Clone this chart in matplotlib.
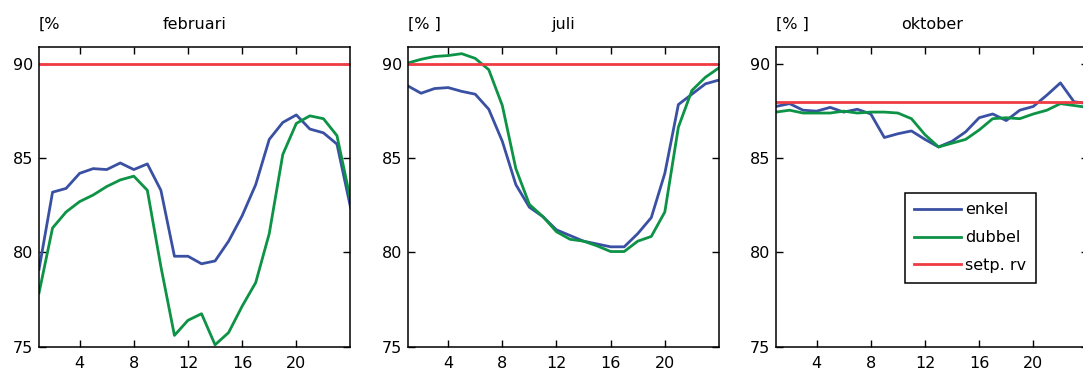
import numpy as np
import matplotlib
matplotlib.use("Agg")
import matplotlib.pyplot as plt

# uren van de dag
uren = np.arange(1, 25)

# relatieve vochtigheid [%] per maand
feb_enkel = [79.1, 83.2, 83.4, 84.2, 84.45, 84.4, 84.75, 84.4, 84.7, 83.3,
             79.8, 79.8, 79.4, 79.55, 80.6, 81.95, 83.6, 86.0, 86.9, 87.3,
             86.55, 86.35, 85.75, 82.4]
feb_dubbel = [77.85, 81.3, 82.15, 82.7, 83.05, 83.5, 83.85, 84.05, 83.3, 79.25,
              75.6, 76.4, 76.75, 75.1, 75.75, 77.15, 78.4, 81.0, 85.2, 86.85,
              87.25, 87.1, 86.2, 82.8]
jul_enkel = [88.85, 88.45, 88.7, 88.75, 88.55, 88.4, 87.6, 85.9, 83.6, 82.4,
             81.9, 81.2, 80.9, 80.6, 80.45, 80.3, 80.3, 81.0, 81.85, 84.2,
             87.85, 88.4, 88.95, 89.15]
jul_dubbel = [90.05, 90.25, 90.4, 90.45, 90.55, 90.3, 89.7, 87.8, 84.45, 82.55,
              81.9, 81.1, 80.7, 80.6, 80.35, 80.05, 80.05, 80.6, 80.85, 82.15,
              86.65, 88.6, 89.3, 89.8]
okt_enkel = [87.75, 87.9, 87.55, 87.5, 87.7, 87.45, 87.6, 87.35, 86.1, 86.3,
             86.45, 86.0, 85.6, 85.9, 86.4, 87.15, 87.35, 87.0, 87.55, 87.75,
             88.35, 89.0, 88.0, 87.9]
okt_dubbel = [87.45, 87.55, 87.4, 87.4, 87.4, 87.5, 87.4, 87.45, 87.45, 87.4,
              87.1, 86.25, 85.6, 85.8, 86.0, 86.5, 87.1, 87.15, 87.1, 87.35,
              87.55, 87.9, 87.8, 87.7]
setpunt = [90, 90, 88]

maanden = ["februari", "juli", "oktober"]
eenheden = ["[%", "[% ]", "[% ]"]
reeksen = [(feb_enkel, feb_dubbel), (jul_enkel, jul_dubbel), (okt_enkel, okt_dubbel)]

blauw = "#3a50a3"
groen = "#0c9345"
rood = "#ef3b42"

plt.rcParams["font.family"] = "DejaVu Sans"

fig = plt.figure(figsize=(10.83, 3.70), dpi=100)
links = [39.0, 407.5, 776.0]
for i in range(3):
    ax = fig.add_axes([links[i] / 1083, 23.3 / 370, 311.5 / 1083, 300 / 370])
    enkel, dubbel = reeksen[i]
    ax.plot(uren, enkel, color=blauw, lw=2.0, label="enkel")
    ax.plot(uren, dubbel, color=groen, lw=2.0, label="dubbel")
    ax.axhline(setpunt[i], color=rood, lw=2.0, label="setp. rv")
    ax.set_xlim(1, 24)
    ax.set_ylim(75, 90.92)
    ax.set_xticks([4, 8, 12, 16, 20])
    ax.set_yticks([75, 80, 85, 90])
    ax.tick_params(direction="in", top=True, right=True, length=5,
                   width=1, labelsize=11.5)
    ax.tick_params(axis="x", pad=7)
    ax.tick_params(axis="y", pad=4)
    for sp in ax.spines.values():
        sp.set_linewidth(1.1)
    ax.text(0.5, 1.075, maanden[i], transform=ax.transAxes,
            ha="center", va="center", fontsize=11.5)
    ax.text(0.0, 1.075, eenheden[i], transform=ax.transAxes,
            ha="left", va="center", fontsize=11.5)
    if i == 2:
        leg = ax.legend(loc="upper left", bbox_to_anchor=(0.413, 0.513),
                        borderaxespad=0, fancybox=False, framealpha=1,
                        edgecolor="black", fontsize=11.5, handlelength=2.9,
                        handletextpad=0.3, borderpad=0.6, labelspacing=0.8)
        leg.get_frame().set_linewidth(1.1)

fig.savefig("out.png", dpi=100)
